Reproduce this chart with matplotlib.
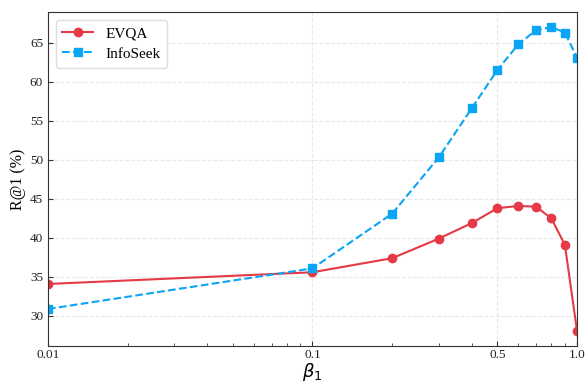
import matplotlib
matplotlib.use("Agg")
import matplotlib.pyplot as plt
from matplotlib.ticker import FixedLocator, FixedFormatter, NullFormatter

plt.rcParams['font.family'] = ['Liberation Serif', 'DejaVu Serif']

beta = [0.01, 0.1, 0.2, 0.3, 0.4, 0.5, 0.6, 0.7, 0.8, 0.9, 1.0]
evqa = [34.1, 35.6, 37.4, 39.9, 41.9, 43.8, 44.1, 44.0, 42.5, 39.1, 28.1]
infoseek = [30.9, 36.1, 43.1, 50.3, 56.6, 61.5, 64.8, 66.6, 67.0, 66.3, 63.1]
xticks = [0.01, 0.1, 0.5, 1.0]
xticklabels = ['0.01', '0.1', '0.5', '1.0']

fig = plt.figure(figsize=(5.88, 3.85), dpi=100)
ax = fig.add_axes([0.0816, 0.1013, 0.8997, 0.8677])

ax.plot(beta, evqa, '-o', color='#E63946', lw=1.5, ms=6, label='EVQA')
ax.plot(beta, infoseek, '--s', color='#0AA5F5', lw=1.5, ms=6, label='InfoSeek')

ax.set_xscale('log')
ax.set_xlim(0.01, 1.0)
ax.xaxis.set_major_locator(FixedLocator(xticks))
ax.xaxis.set_major_formatter(FixedFormatter(xticklabels))
ax.xaxis.set_minor_formatter(NullFormatter())

ax.tick_params(direction='in', labelsize=9.5, colors='#333333', labelcolor='#222222')
ax.tick_params(axis='x', pad=2.5)
ax.tick_params(which='minor', direction='in', colors='#333333')
ax.grid(True, linestyle='--', color='#e0e0e0', alpha=0.7, lw=0.8)

for s in ax.spines.values():
    s.set_color('#333333')

ax.set_xlabel(r'$\beta_1$', fontsize=13, family='DejaVu Sans', labelpad=0)
ax.set_ylabel('R@1 (%)', fontsize=11.5, labelpad=3)
ax.legend(loc='upper left', fontsize=11, framealpha=1, edgecolor='#dddddd',
          handlelength=2.0, handletextpad=0.8, borderpad=0.45, labelspacing=0.45)

fig.savefig('out.png', dpi=100)
